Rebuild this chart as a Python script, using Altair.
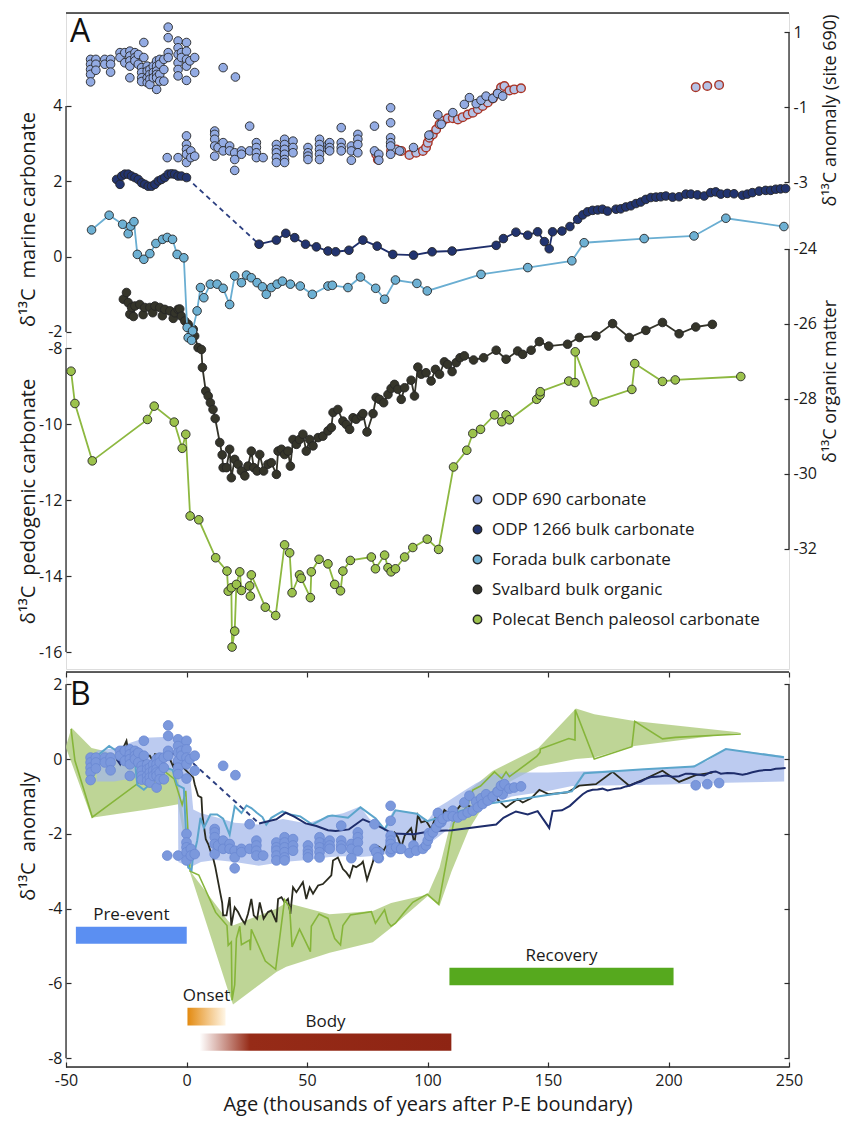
import altair as alt
import pandas as pd

FONT = "Open Sans"
TXT = "#1a1a1a"
AXC = "#2b2b2b"
GAP = "\u2002"

# ---------------- axes / ticks ----------------
X_DOMAIN = [-50, 250]
X_TICKS = [-50, 0, 50, 100, 150, 200, 250]
marine_ticks = [4, 2, 0, -2]
pedogenic_ticks = [-8, -10, -12, -14, -16]
anom690_ticks = [1, -1, -3]
organic_ticks = [-24, -26, -28, -30, -32]
anomB_ticks = [2, 0, -2, -4, -6, -8]

MARINE_DOM = [-10.947, 6.469]
PED_DOM = [-16.447, 0.816]
ANOM_DOM = [-15.987, 1.507]
ORG_DOM = [-35.2, -17.707]
B_DOM = [-8.233, 2.329]

panel_letters = ["A", "B"]
series_names = ["ODP 690 carbonate", "ODP 1266 bulk carbonate", "Forada bulk carbonate",
                "Svalbard bulk organic", "Polecat Bench paleosol carbonate"]
series_colors = ["#93ABE3", "#22346F", "#6DB0D3", "#35352A", "#9CC24C"]

# ---------------- panel A data ----------------
odp690_col_x = [-39.8, -37.6, -33.9, -31.5, -27.6, -25.6, -23.5, -21.4, -20.0, -18.6, -17.7, -16.3, -15.2,
                -13.8, -12.4, -11.1, -9.4, -7.6, -3.5, -2.1, 0.0, 1.4, 3.4, 15.2, 20.3,
                -8.0, -3.5, 0.0, 1.8, 3.4, 11.7, 13.1, 15.2, 17.9, 20.0, 22.8, 26.2, 29.0, 31.8, 37.3, 40.7,
                44.2, 50.4, 55.2, 58.7, 59.4, 64.2, 68.4, 71.1, 78.0, 79.8, 84.7, 88.4, 94.2, 100.6, 104.3,
                105.7, 110.5, 115.3, 117.4, 120.2, 122.2, 124.3, 127.1, 129.1, 131.2]
odp690_col_v = [[0.27, 0.14, 0.00, -0.13, -0.33], [0.27, 0.14, -0.02], [0.27, 0.14], [0.27, 0.14, -0.07],
                [0.45, 0.32], [0.45, 0.18], [0.49, 0.36, 0.23, 0.09, -0.22], [0.45, 0.32, 0.23], [0.40, 0.14],
                [0.05, -0.08, -0.22, -0.32], [0.72, 0.32], [0.09, -0.04, -0.22, -0.35], [0.00, -0.13, -0.26, -0.40],
                [0.09, -0.08, -0.22], [0.23, 0.09, -0.04, -0.13, -0.22, -0.53], [0.27, 0.14, -0.13, -0.31],
                [0.27, 0.00, -0.31], [1.13, 0.85, 0.45, 0.32], [0.76, 0.58, 0.40, 0.18, 0.00, -0.17], [0.45, 0.32],
                [0.72, 0.49, 0.27, 0.09, -0.29], [0.23], [0.32, -0.08], [0.05], [-0.20],
                [-2.35], [-2.35], [-1.77, -2.0, -2.13, -2.26, -2.48], [-2.17, -2.35], [-2.31],
                [-1.64, -1.73, -1.86, -2.04, -2.31], [-2.08], [-1.95, -2.17], [-2.04, -2.17], [-2.22, -2.40, -2.69],
                [-2.17, -2.26], [-1.51, -2.17], [-1.95, -2.08, -2.22, -2.35], [-2.35],
                [-2.0, -2.13, -2.22, -2.35, -2.48], [-1.86, -2.0, -2.13, -2.26, -2.40, -2.48], [-1.91, -2.08, -2.22],
                [-2.08, -2.22, -2.31, -2.40], [-1.86, -2.0, -2.13, -2.26, -2.40], [-2.0, -2.13],
                [-1.95, -2.08, -2.17], [-1.55, -1.95, -2.08, -2.17], [-2.04, -2.17, -2.42],
                [-1.73, -1.86, -2.0, -2.22], [-1.51, -2.17], [-2.26, -2.42],
                [-1.02, -1.42, -1.82, -1.95, -2.04, -2.26], [-2.17], [-2.08], [-1.75], [-1.21], [-1.46],
                [-1.15], [-0.93], [-0.75], [-0.91], [-0.82], [-0.71], [-0.77], [-0.64], [-0.71]]

odp690b_x = [78.7, 79.4, 84.9, 87.0, 89.1, 92.5, 95.3, 98.1, 99.4, 100.1, 100.8, 102.2, 103.6, 105.0, 106.3,
             108.4, 110.5, 112.6, 114.6, 116.7, 118.8, 120.9, 122.9, 125.0, 127.1, 129.1, 130.5, 131.9, 134.0,
             136.0, 138.8, 211.3, 216.1, 221.0]
odp690b_v = [-2.26, -2.40, -2.17, -2.13, -2.17, -2.28, -2.22, -2.17, -2.08, -1.95, -1.82, -1.73, -1.60, -1.46,
             -1.37, -1.30, -1.30, -1.33, -1.27, -1.20, -1.15, -1.06, -0.97, -0.88, -0.77, -0.64, -0.48, -0.44,
             -0.56, -0.53, -0.50, -0.47, -0.44, -0.41]

odp1266_pre_x = [-29.0, -27.6, -26.9, -25.6, -24.2, -22.8, -21.4, -20.0, -18.6, -17.3, -15.9, -14.5, -13.1,
                 -11.7, -10.4, -9.0, -7.6, -6.2, -4.9, -3.5, -2.1, 0.0]
odp1266_pre_v = [2.05, 1.92, 2.14, 2.19, 2.19, 2.14, 2.10, 2.05, 1.96, 1.92, 1.87, 1.87, 1.92, 2.01, 2.05,
                 2.10, 2.19, 2.20, 2.19, 2.14, 2.14, 2.10]
odp1266_post_x = [30.1, 37.3, 41.2, 44.9, 49.4, 53.9, 58.7,
                  61.9, 67.4, 73.2, 79.1, 85.6, 94.2, 101.9, 110.2, 128.5, 131.5, 136.7, 141.6, 145.7, 148.5,
                  150.5, 151.9, 155.8, 159.1, 162.3, 164.4, 166.4, 168.5, 170.6, 172.6, 174.7, 178.2, 180.2,
                  182.3, 184.4, 186.5, 188.5, 190.6, 192.7, 194.8, 196.8, 198.9, 201.7, 204.4, 207.2, 209.3,
                  212.0, 214.8, 217.5, 219.6, 221.7, 224.4, 227.2, 230.7, 232.7, 234.8, 237.6, 240.3, 242.4,
                  244.5, 246.5, 248.6]
odp1266_post_v = [0.33, 0.44, 0.62, 0.505, 0.33, 0.26, 0.15,
                  0.13, 0.17, 0.44, 0.28, 0.06, 0.04, 0.13, 0.15, 0.30, 0.48, 0.65, 0.57, 0.66, 0.40,
                  0.21, 0.66, 0.68, 0.80, 0.99, 1.11, 1.19, 1.23, 1.24, 1.26, 1.21, 1.26, 1.27,
                  1.32, 1.35, 1.41, 1.45, 1.52, 1.57, 1.58, 1.59, 1.61, 1.58, 1.59, 1.66, 1.66,
                  1.64, 1.61, 1.70, 1.72, 1.66, 1.68, 1.67, 1.63, 1.66, 1.70, 1.74, 1.76, 1.76,
                  1.79, 1.80, 1.81]

forada_x = [-39.4, -32.1, -26.5, -24.2, -23.2, -21.8, -20.4, -17.7, -15.2, -12.7, -9.95, -8.0, -5.8, -3.9,
            -1.1, 0.27, 0.69, 2.1, 2.5, 4.4, 5.8, 7.2, 9.9, 12.7, 15.2, 17.9, 20.0, 22.8, 24.9, 26.9, 29.3,
            31.5, 33.1, 35.2, 37.6, 39.8, 43.1, 47.2, 52.2, 58.7, 60.5, 67.0, 72.2, 78.5, 82.2, 86.7, 95.6,
            99.9, 122.2, 141.6, 159.9, 165.0, 189.9, 210.6, 223.8, 247.9]
forada_v = [0.71, 1.10, 0.86, 0.61, 0.81, 0.93, 0.06, -0.07, 0.08, 0.35, 0.46, 0.51, 0.46, 0.06, -0.03,
            -1.88, -2.15, -2.22, -1.97, -1.44, -0.82, -1.09, -0.73, -0.73, -0.84, -1.27, -0.51, -0.69, -0.49,
            -0.56, -0.69, -0.80, -1.0, -0.82, -0.73, -0.65, -0.73, -0.78, -1.0, -0.78, -0.76, -0.82, -0.54,
            -0.84, -1.13, -0.62, -0.71, -0.91, -0.47, -0.29, -0.11, 0.37, 0.48, 0.55, 1.02, 0.80]

svalbard_x = [-26.2, -24.9, -24.2, -23.5, -22.8, -22.0, -21.4, -19.4, -18.0, -17.3, -15.2, -14.0, -13.1, -11.1,
              -10.0, -9.0, -6.9, -5.5, -4.8, -3.5, -2.8, -2.1, -0.7, 0.7, 2.8,
              3.4, 4.8, 6.2, 6.6, 8.0, 9.0, 9.9, 11.0, 11.9, 13.8, 14.8, 15.2, 16.6, 17.9, 18.6, 20.0, 21.4,
              22.8, 24.2, 25.5, 26.9, 27.9, 29.3, 30.4, 32.0, 33.8, 35.2, 37.3, 38.0, 39.4, 40.7, 42.1, 43.1,
              44.2, 45.6, 46.9, 48.3, 49.7, 51.1, 52.5, 54.6, 56.6, 58.7,
              60.1, 60.8, 62.8, 64.9, 66.3, 67.7, 69.1, 70.4, 72.5, 73.2, 74.9, 77.4, 78.7, 80.1, 81.8, 83.6,
              84.9, 86.3, 87.7, 89.1, 90.5, 93.2, 94.6, 96.0, 97.4, 99.4, 101.5, 103.3, 105.0, 107.0, 108.4,
              110.2, 111.9, 113.5, 115.3, 119.1, 123.3, 128.5, 132.6, 137.4, 139.5, 143.0, 146.4, 150.3,
              158.1, 163.0, 169.9, 176.8, 183.7, 190.6, 197.5, 204.4, 211.3, 218.2]
svalbard_v = [-25.34, -25.16, -25.43, -25.74, -25.56, -25.80, -25.52, -25.48, -25.75, -25.56, -25.56, -25.70,
              -25.52, -25.56, -25.78, -25.61, -25.65, -25.85, -25.70, -25.61, -25.60, -25.79, -25.92, -26.01,
              -26.14,
              -26.32, -26.63, -26.68, -27.16, -27.79, -27.92, -28.10, -28.28, -28.52, -29.16, -29.49, -29.83,
              -29.83, -29.34, -30.10, -29.61, -29.74, -29.92, -30.05, -29.79, -29.39, -29.83, -29.92, -29.48,
              -29.92, -29.74, -29.70, -30.01, -29.39, -29.34, -29.48, -29.39, -29.79, -29.08, -29.21, -29.08,
              -28.94, -29.39, -29.08, -29.25, -29.03, -28.99, -28.85,
              -28.76, -28.36, -28.28, -28.59, -28.68, -28.81, -28.50, -28.54, -28.45, -28.39, -28.88, -28.39,
              -27.96, -28.01, -28.10, -27.88, -27.72, -27.61, -27.74, -28.01, -27.70, -27.50, -27.92, -27.15,
              -27.34, -27.30, -27.52, -27.21, -27.34, -27.01, -27.08, -27.27, -27.03, -26.90, -26.85, -26.96,
              -26.90, -26.70, -26.94, -26.72, -26.81, -26.70, -26.47, -26.59, -26.54, -26.36, -26.32, -25.99,
              -26.36, -26.17, -25.96, -26.26, -26.08, -26.01]

polecat_x = [-47.9, -46.3, -39.1, -16.2, -13.4, -5.1, -1.8, -0.3, 1.5, 5.1, 12.1, 16.8, 17.3, 18.6, 18.9, 20.0,
             20.7, 22.1, 22.8, 26.2, 26.5, 26.9, 32.7, 37.0, 40.7, 42.8, 43.8, 46.9, 47.6, 51.4, 51.8, 55.0,
             58.7, 61.5, 63.9, 64.9, 68.0, 76.7, 78.4, 82.2, 83.6, 84.9, 86.7, 90.5, 93.9, 99.9, 104.6, 110.8,
             116.3, 118.8, 122.0, 127.8, 130.8, 132.6, 134.0, 145.3, 146.7, 146.8, 158.6, 161.2, 161.3, 169.2,
             184.8, 186.0, 197.5, 202.8, 230.0]
polecat_v = [-8.61, -9.46, -10.97, -9.88, -9.53, -9.95, -10.64, -10.27, -12.42, -12.52, -13.52, -13.87, -14.40,
             -14.31, -15.87, -15.45, -14.22, -13.89, -14.38, -14.26, -14.53, -13.97, -14.82, -15.04, -13.18,
             -13.39, -14.44, -13.97, -14.06, -14.57, -13.89, -13.56, -13.68, -14.22, -14.39, -13.87, -13.59,
             -13.50, -13.81, -13.45, -13.78, -13.89, -13.81, -13.50, -13.25, -13.03, -13.30, -11.13, -10.69,
             -10.25, -10.14, -9.76, -9.94, -9.76, -9.89, -9.35, -9.24, -9.15, -8.87, -8.91, -8.10, -9.42,
             -9.09, -8.41, -8.88, -8.84, -8.75]

# ---------------- panel B data ----------------
# baselines used to turn each record into an anomaly
base_690_B = -0.23
base_1266 = 2.05
base_forada = 0.75
base_svalbard = -25.65
base_polecat = -9.42

blue_band_x = [-37.3, -30, -17.0, -7.0, -3.6, -3.4, 0.0, 2.8, 6, 12, 20, 30, 40, 50, 59.4, 65, 72, 76, 82, 86,
               95, 100, 104, 108, 115, 120, 127, 135, 150, 160, 180, 200, 210, 216, 223.8, 248]
blue_band_hi = [0.22, 0.30, 0.57, 0.60, 0.60, 0.60, 0.55, -1.35, -1.45, -1.55, -1.7, -1.75, -1.6, -1.72, -1.52,
                -1.45, -1.27, -1.6, -1.85, -1.35, -1.45, -1.65, -1.3, -1.15, -0.85, -0.65, -0.42, -0.36,
                -0.36, -0.34, -0.3, -0.25, -0.18, -0.05, 0.28, 0.08]
blue_band_lo = [-0.60, -0.60, -0.45, -0.35, -0.35, -2.75, -2.85, -2.85, -2.75, -2.7, -2.75, -2.85, -2.75, -2.7,
                -2.62, -2.6, -2.62, -2.6, -2.55, -2.5, -2.4, -2.3, -2.1, -1.9, -1.55, -1.35, -1.2, -1.0, -0.85,
                -0.72, -0.7, -0.68, -0.66, -0.65, -0.63, -0.6]

green_band_x = [-50, -47.7, -39.4, -16.2, -6.9, -3.5, 1.5, 17.3, 19.3, 37.3, 41.4, 59.4, 77.3, 84.9, 100.1,
                105, 110, 117, 127, 146, 161.6, 169.2, 185.8, 230]
green_band_hi = [0.35, 0.84, 0.3, -0.05, -0.29, -0.45, -2.99, -4.33, -4.45, -4.0, -3.84, -4.15, -4.06, -3.85,
                 -3.62, -2.9, -1.6, -0.85, -0.32, 0.3, 1.35, 1.2, 1.02, 0.71]
green_band_lo = [0.3, -0.1, -1.57, -1.35, -1.25, -1.21, -3.04, -6.2, -6.56, -5.69, -5.55, -5.18, -4.9, -4.51,
                 -3.66, -3.93, -3.0, -1.9, -0.85, -0.2, 0.0, 0.04, 0.35, 0.71]

phase_names = ["Pre-event", "Onset", "Body", "Recovery"]
phase_start = [-45.9, 0.4, 5.5, 109.1]
phase_end = [0.1, 16.2, 109.9, 202.1]
phase_top = [-4.48, -6.65, -7.34, -5.58]
phase_bottom = [-4.94, -7.12, -7.80, -6.05]

# ---------------- helpers ----------------
def X(axis=None, field="x"):
    return alt.X(f"{field}:Q", scale=alt.Scale(domain=X_DOMAIN, nice=False, zero=False), axis=axis)


def Y(dom, axis=None, field="y"):
    return alt.Y(f"{field}:Q", scale=alt.Scale(domain=dom, nice=False, zero=False), axis=axis)


def ax(**kw):
    base = dict(domain=False, grid=False, ticks=True, tickSize=5, offset=-5, tickColor=AXC, tickWidth=1.2,
                labelFont=FONT, labelFontSize=16, labelColor=TXT, labelExpr="datum.value + ''",
                labelFlush=False, labelOverlap=False,
                titleFont=FONT, titleFontSize=20, titleFontWeight="normal", titleColor=TXT)
    base.update(kw)
    return alt.Axis(**base)


def left_axis(values, title, ty):
    return ax(orient="left", values=values, title=title, labelPadding=4, titleAngle=270,
              titleBaseline="bottom", titleAlign="center", titleX=-33, titleY=ty)


def right_axis(values, title, ty):
    return ax(orient="right", values=values, title=title, labelPadding=4, titleAngle=270, titleFontSize=18,
              titleBaseline="top", titleAlign="center", titleX=37, titleY=ty)


def xy(xs, ys, **extra):
    d = pd.DataFrame({"x": xs, "y": ys})
    for k, v in extra.items():
        d[k] = v
    return d


def bracket(ticks, dom, xpos):
    d = pd.DataFrame({"x": [xpos], "y": [max(ticks)], "y2": [min(ticks)]})
    return alt.Chart(d).mark_rule(color=AXC, strokeWidth=1.3).encode(x=X(), y=Y(dom), y2="y2:Q")


def hframe(dom, at):
    d = pd.DataFrame({"x": [X_DOMAIN[0]], "x2": [X_DOMAIN[1]], "y": [at]})
    return alt.Chart(d).mark_rule(color=AXC, strokeWidth=1.3).encode(x=X(), x2="x2:Q", y=Y(dom))


def letter(text, dom, dy):
    d = pd.DataFrame({"x": [X_DOMAIN[0]], "y": [dom[1]], "t": [text]})
    return alt.Chart(d).mark_text(font=FONT, fontSize=32, color="#111111", align="left", baseline="top",
                                  dx=4, dy=dy).encode(x=X(), y=Y(dom), text="t:N")


LEG = alt.Legend(orient="none", legendX=403, legendY=478, title=None, labelFont=FONT, labelFontSize=17,
                 labelColor=TXT, labelLimit=500, symbolType="circle", symbolSize=70, rowPadding=12,
                 labelOffset=6)
COLOR = alt.Color("series:N", scale=alt.Scale(domain=series_names, range=series_colors), legend=LEG)
PT = dict(size=74, stroke="#262626", strokeWidth=0.9, opacity=1)

# ---------------- panel A ----------------
odp_x, odp_v = [], []
for cx, vals in zip(odp690_col_x, odp690_col_v):
    for v in vals:
        odp_x.append(cx)
        odp_v.append(v)
odp_df = xy(odp_x, odp_v, series=series_names[0])
odpb_df = xy(odp690b_x, odp690b_v)
n_pre = xy(odp1266_pre_x, odp1266_pre_v, series=series_names[1])
n_post = xy(odp1266_post_x, odp1266_post_v, series=series_names[1])
n_all = pd.concat([n_pre, n_post])
n_gap = xy([odp1266_pre_x[-1], odp1266_post_x[0]], [odp1266_pre_v[-1], odp1266_post_v[0]])
fo_df = xy(forada_x, forada_v, series=series_names[2])
sv_df = xy(svalbard_x, svalbard_v, series=series_names[3])
po_df = xy(polecat_x, polecat_v, series=series_names[4])

top_axis_A = ax(orient="top", values=X_TICKS, labels=False, title=None)

A_layers = [
    hframe(ANOM_DOM, ANOM_DOM[1]),
    bracket(marine_ticks, MARINE_DOM, X_DOMAIN[0]),
    bracket(pedogenic_ticks, PED_DOM, X_DOMAIN[0]),
    bracket(anom690_ticks, ANOM_DOM, X_DOMAIN[1]),
    bracket(organic_ticks, ORG_DOM, X_DOMAIN[1]),
    letter(panel_letters[0], ANOM_DOM, 4),
    alt.Chart(sv_df).mark_line(color="#34342A", strokeWidth=1.8).encode(
        x=X(axis=top_axis_A),
        y=Y(ORG_DOM, axis=right_axis(organic_ticks, "δ¹³C organic matter", 368))),
    alt.Chart(sv_df).mark_circle(**PT).encode(x=X(), y=Y(ORG_DOM), color=COLOR),
    alt.Chart(po_df).mark_line(color="#8DB840", strokeWidth=1.8).encode(
        x=X(), y=Y(PED_DOM, axis=left_axis(pedogenic_ticks, f"δ¹³C{GAP}pedogenic carbonate", 488))),
    alt.Chart(po_df).mark_circle(**PT).encode(x=X(), y=Y(PED_DOM), color=COLOR),
    alt.Chart(fo_df).mark_line(color="#6AAED2", strokeWidth=1.8).encode(
        x=X(), y=Y(MARINE_DOM, axis=left_axis(marine_ticks, f"δ¹³C{GAP}marine carbonate", 206))),
    alt.Chart(fo_df).mark_circle(**PT).encode(x=X(), y=Y(MARINE_DOM), color=COLOR),
    alt.Chart(n_pre).mark_line(color="#1F2F6B", strokeWidth=1.8).encode(x=X(), y=Y(MARINE_DOM)),
    alt.Chart(n_post).mark_line(color="#1F2F6B", strokeWidth=1.8).encode(x=X(), y=Y(MARINE_DOM)),
    alt.Chart(n_gap).mark_line(color="#2C3F80", strokeWidth=1.8, strokeDash=[5, 4]).encode(
        x=X(), y=Y(MARINE_DOM)),
    alt.Chart(n_all).mark_circle(**PT).encode(x=X(), y=Y(MARINE_DOM), color=COLOR),
    alt.Chart(odpb_df).mark_circle(size=74, fill="#B5C2E6", stroke="#A93426", strokeWidth=1.4, opacity=1).encode(
        x=X(), y=Y(ANOM_DOM)),
    alt.Chart(odp_df).mark_circle(**PT).encode(
        x=X(), y=Y(ANOM_DOM, axis=right_axis(anom690_ticks, "δ¹³C anomaly (site 690)", 97)), color=COLOR),
]

panelA = alt.layer(*A_layers).resolve_scale(y="independent").properties(width=723, height=656)

# ---------------- panel B ----------------
gb = pd.DataFrame({"x": green_band_x, "y": green_band_hi, "y2": green_band_lo})
bb = pd.DataFrame({"x": blue_band_x, "y": blue_band_hi, "y2": blue_band_lo})
sv_b = xy(svalbard_x, [v - base_svalbard for v in svalbard_v])
po_b = xy(polecat_x, [v - base_polecat for v in polecat_v])
fo_b = xy(forada_x, [v - base_forada for v in forada_v])
n_pre_b = xy(odp1266_pre_x, [v - base_1266 for v in odp1266_pre_v])
n_post_b = xy(odp1266_post_x, [v - base_1266 for v in odp1266_post_v])
n_gap_b = xy(list(n_gap["x"]), [v - base_1266 for v in n_gap["y"]])
odp_b = xy(odp_x + odp690b_x, [v + base_690_B for v in odp_v + odp690b_v])

ph = pd.DataFrame({"name": phase_names, "x": phase_start, "x2": phase_end, "y": phase_top, "y2": phase_bottom})
ph["mid"] = (ph["x"] + ph["x2"]) / 2

onset_grad = alt.Gradient(gradient="linear", x1=0, x2=1, y1=0, y2=0,
                          stops=[alt.GradientStop(color="#E38A10", offset=0),
                                 alt.GradientStop(color="#FFF6E6", offset=1)])
body_grad = alt.Gradient(gradient="linear", x1=0, x2=1, y1=0, y2=0,
                         stops=[alt.GradientStop(color="#FFFFFF", offset=0),
                                alt.GradientStop(color="#962B17", offset=0.2),
                                alt.GradientStop(color="#8E2413", offset=1)])
phase_fill = ["#5B8FF2", onset_grad, body_grad, "#56A91E"]

bottom_axis = ax(orient="bottom", values=X_TICKS, title="Age (thousands of years after P-E boundary)",
                 labelPadding=5, titlePadding=6)
top_axis_B = ax(orient="top", values=X_TICKS, labels=False, title=None)
left_B = ax(orient="left", values=anomB_ticks, title=f"δ¹³C{GAP}anomaly", labelPadding=4, titleAngle=270,
            titleBaseline="bottom", titleAlign="center", titleX=-33, titleY=164)
right_B = ax(orient="right", values=anomB_ticks, labels=False, title=None)

B_layers = [
    hframe(B_DOM, B_DOM[1]),
    hframe(B_DOM, B_DOM[0]),
    bracket(anomB_ticks, B_DOM, X_DOMAIN[0]),
    bracket(anomB_ticks, B_DOM, X_DOMAIN[1]),
    alt.Chart(gb).mark_area(color="#B3CE84", opacity=0.85).encode(
        x=X(axis=bottom_axis), y=Y(B_DOM, axis=left_B), y2="y2:Q"),
    alt.Chart(bb).mark_area(color="#A2B7EA", opacity=0.72).encode(
        x=X(axis=top_axis_B), y=Y(B_DOM, axis=right_B), y2="y2:Q"),
    alt.Chart(sv_b).mark_line(color="#2A2A1E", strokeWidth=1.8).encode(x=X(), y=Y(B_DOM)),
    alt.Chart(po_b).mark_line(color="#86B53A", strokeWidth=1.6).encode(x=X(), y=Y(B_DOM)),
    alt.Chart(fo_b).mark_line(color="#5BA5CB", strokeWidth=2).encode(x=X(), y=Y(B_DOM)),
    alt.Chart(n_pre_b).mark_line(color="#1E2D6B", strokeWidth=2).encode(x=X(), y=Y(B_DOM)),
    alt.Chart(n_post_b).mark_line(color="#1E2D6B", strokeWidth=2).encode(x=X(), y=Y(B_DOM)),
    alt.Chart(n_gap_b).mark_line(color="#2C3F80", strokeWidth=2, strokeDash=[5, 4]).encode(x=X(), y=Y(B_DOM)),
    alt.Chart(odp_b).mark_circle(size=95, color="#7B98DC", stroke="#6A88D2", strokeWidth=0.8, opacity=1).encode(
        x=X(), y=Y(B_DOM)),
    letter(panel_letters[1], B_DOM, 8),
]
for i, fill in enumerate(phase_fill):
    B_layers.append(alt.Chart(ph.iloc[[i]]).mark_rect(color=fill).encode(x=X(), x2="x2:Q", y=Y(B_DOM), y2="y2:Q"))
B_layers.append(alt.Chart(ph).mark_text(font=FONT, fontSize=17, color=TXT, baseline="bottom", dy=-3).encode(
    x=X(field="mid"), y=Y(B_DOM), text="name:N"))

panelB = alt.layer(*B_layers).resolve_axis(x="independent", y="independent").properties(width=723, height=395)

chart = alt.vconcat(panelA, panelB, spacing=0).properties(
    padding={"left": 17, "top": 11, "right": 4, "bottom": 2},
    background="white",
).configure_view(strokeWidth=0).configure(font=FONT)

chart.save("out.html", embed_options={"renderer": "svg", "actions": False})
